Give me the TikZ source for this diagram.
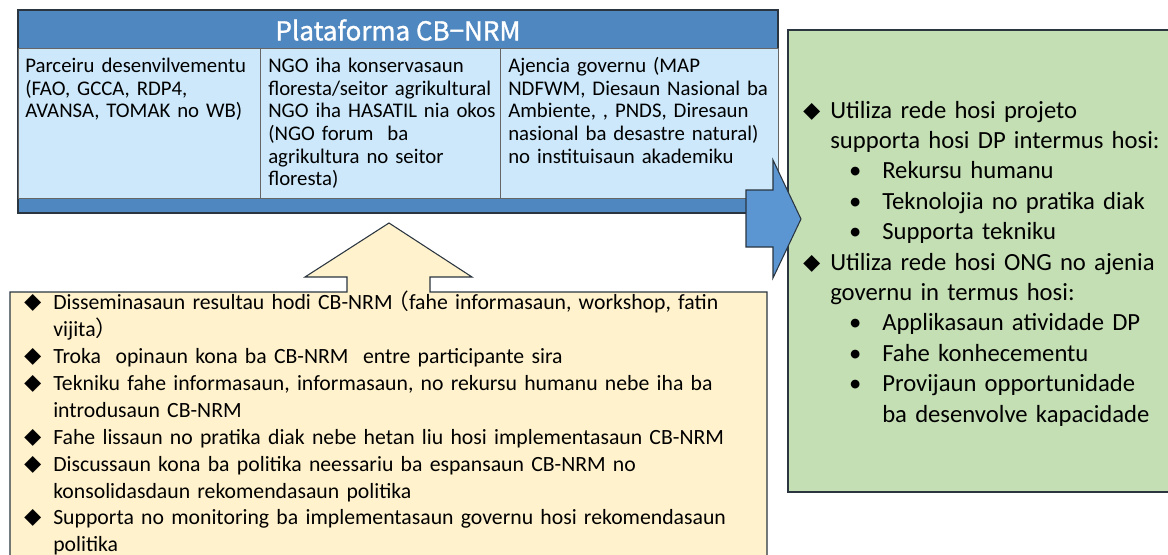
\documentclass[tikz,border=0pt]{standalone}
\usepackage{fontspec}
\setmainfont{Carlito}
\newfontfamily\cjk{Noto Sans CJK JP}
\newfontfamily\cjktitle[FakeBold=1.2]{Noto Sans CJK JP}
\definecolor{bandblue}{HTML}{4F87C0}
\definecolor{cellblue}{HTML}{CCE8FA}
\definecolor{arrowblue}{HTML}{5B96D3}
\definecolor{greenfill}{HTML}{C5DFB4}
\definecolor{beige}{HTML}{FFF2CC}
\definecolor{darkline}{HTML}{2A3540}
\newcommand{\dm}[1]{\makebox[#1][l]{\makebox[15pt][c]{\fontsize{13pt}{13pt}\cjk ◆}}}
\newcommand{\bl}{\hspace*{33pt}\makebox[13.5pt][c]{•}\hspace*{13.5pt}}
\begin{document}
\begin{tikzpicture}[x=0.75pt,y=-0.75pt,
  cell/.style={draw=gray!80!black,line width=0.6pt,fill=cellblue},
  celltext/.style={anchor=base west,inner sep=0,align=left,text width=240pt,
    font=\fontsize{15.6pt}{17pt}\selectfont},
  greentext/.style={anchor=base west,inner sep=0,align=left,text width=300pt,
    font=\fontsize{18.5pt}{22.8pt}\selectfont},
  beigetext/.style={anchor=base west,inner sep=0,align=left,text width=600pt,
    font=\fontsize{16.3pt}{20.2pt}\selectfont}]
\useasboundingbox (0,0) rectangle (1168,554);
% green box
\draw[fill=greenfill,draw=darkline,line width=0.8pt] (788,30) rectangle (1180,492);
% beige callout
\draw[fill=beige,draw=darkline,line width=0.8pt]
  (10,292) -- (347,292) -- (347,277) -- (305,277) -- (389,223) -- (472,277)
  -- (430,277) -- (430,292) -- (767,292) -- (767,570) -- (10,570) -- cycle;
% platform
\draw[fill=bandblue,draw=darkline,line width=0.9pt] (18,10) rectangle (778,213);
\draw[cell] (18,48) rectangle (260,198);
\draw[cell] (260,48) rectangle (500,198);
\draw[cell] (500,48) rectangle (778,198);
\node[text=white,inner sep=0,font=\cjktitle\fontsize{19.5pt}{19.5pt}\selectfont] (title) at (398,30) {Plataforma CB−NRM};
\node[celltext] (c1) at (25,72.5) {Parceiru desenvilvementu\\(FAO, GCCA, RDP4,\\AVANSA, TOMAK no WB)};
\node[celltext] (c2) at (268,72.5) {NGO iha konservasaun\\floresta/seitor agrikultural\\NGO iha HASATIL nia okos\\(NGO forum\ \ ba\\agrikultura no seitor\\floresta)};
\node[celltext] (c3) at (508,72.5) {Ajencia governu (MAP\\NDFWM, Diesaun Nasional ba\\Ambiente, , PNDS, Diresaun\\nasional ba desastre natural)\\no instituisaun akademiku};
% blue arrow
\draw[fill=arrowblue,draw=darkline,line width=0.8pt]
  (746,190) -- (773,190) -- (773,160) -- (801,219) -- (773,278) -- (773,247) -- (746,247) -- cycle;
% green text
\node[greentext] (g) at (802,118) {%
\dm{21pt}Utiliza rede hosi projeto\\
\hspace*{21pt}supporta hosi DP intermus hosi:\\
\bl Rekursu humanu\\
\bl Teknolojia no pratika diak\\
\bl Supporta tekniku\\
\dm{21pt}Utiliza rede hosi ONG no ajenia\\
\hspace*{21pt}governu in termus hosi:\\
\bl Applikasaun atividade DP\\
\bl Fahe konhecementu\\
\bl Provijaun opportunidade\\
\hspace*{60pt}ba desenvolve kapacidade};
% beige text
\node[beigetext] (b) at (23,309.5) {%
\dm{22.5pt}Disseminasaun resultau hodi CB-NRM{\cjk\kern-0.25em （}fahe informasaun, workshop, fatin\\
\hspace*{22.5pt}vijita{\cjk ）}\\
\dm{22.5pt}Troka\ \ opinaun kona ba CB-NRM\ \ entre participante sira\\
\dm{22.5pt}Tekniku fahe informasaun, informasaun, no rekursu humanu nebe iha ba\\
\hspace*{22.5pt}introdusaun CB-NRM\\
\dm{22.5pt}Fahe lissaun no pratika diak nebe hetan liu hosi implementasaun CB-NRM\\
\dm{22.5pt}Discussaun kona ba politika neessariu ba espansaun CB-NRM no\\
\hspace*{22.5pt}konsolidasdaun rekomendasaun politika\\
\dm{22.5pt}Supporta no monitoring ba implementasaun governu hosi rekomendasaun\\
\hspace*{22.5pt}politika};
\end{tikzpicture}
\end{document}
